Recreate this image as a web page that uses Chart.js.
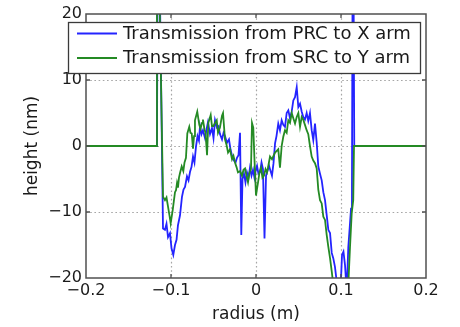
<!DOCTYPE html>
<html>
<head>
<meta charset="utf-8">
<script src="https://cdn.jsdelivr.net/npm/chart.js@4/dist/chart.umd.min.js"></script>
<style>
  html, body { margin: 0; padding: 0; background: #fff; }
  #wrap { width: 460px; height: 327px; }
</style>
</head>
<body>
<div id="wrap"><canvas id="c" width="460" height="327"></canvas></div>
<script>
// Surface height profile across the mirror, sampled along the radius (m)
const radiusPRC = [
  -0.2, -0.1165, -0.1153, -0.1094, -0.1071, -0.1053, -0.1035, -0.1012, -0.0994, -0.0973,
  -0.0953, -0.0935, -0.0918, -0.0894, -0.0871, -0.0853, -0.0835, -0.0812, -0.0794, -0.0776,
  -0.0759, -0.0741, -0.0724, -0.0706, -0.0688, -0.0671, -0.0659, -0.0641, -0.0624, -0.0600,
  -0.0582, -0.0565, -0.0541, -0.0518, -0.0500, -0.0482, -0.0459, -0.0441, -0.0424, -0.0400,
  -0.0382, -0.0365, -0.0341, -0.0318, -0.0300, -0.0282, -0.0259, -0.0241, -0.0224, -0.0206,
  -0.0188, -0.0173, -0.0159, -0.0141, -0.0124, -0.0106, -0.0088, -0.0071, -0.0053, -0.0035,
  -0.0018, 0.0, 0.0012, 0.0029, 0.0047, 0.0065, 0.0082, 0.0100, 0.0118, 0.0135,
  0.0153, 0.0171, 0.0188, 0.0206, 0.0224, 0.0241, 0.0262, 0.0282, 0.0302, 0.0321,
  0.0341, 0.0361, 0.0380, 0.0400, 0.0420, 0.0439, 0.0459, 0.0479, 0.0498, 0.0518,
  0.0538, 0.0556, 0.0576, 0.0596, 0.0615, 0.0635, 0.0655, 0.0674, 0.0694, 0.0714,
  0.0733, 0.0753, 0.0773, 0.0792, 0.0812, 0.0832, 0.0851, 0.0871, 0.0891, 0.0909,
  0.0929, 0.0949, 0.0971, 0.0994, 0.1012, 0.1029, 0.1047, 0.1067, 0.1086, 0.1106,
  0.1118, 0.1129, 0.1141, 0.1156, 0.2
];
// Height (nm), transmission from PRC to X arm
const heightPRC = [
  0, 0, 45, -12.5, -12.7, -11.8, -13.8, -13.2, -15.5, -16.5,
  -15, -14.2, -12, -10.5, -7.7, -6.6, -6.2, -4.6, -5.2, -3.9,
  -3.2, -1.6, -2.5, -0.1, 1.5, 0.8, 3, 1.8, 2.4, 1.2,
  2.5, 3.6, 1.8, 2.7, 1.2, 3.9, 2.8, 3.0, 1.8, 1.0,
  2.0, 1.5, 0.5, 1.0, -0.5, -1.5, -2.2, -2.5, -1.8, -1.4,
  2.0, -13.5, -5, -4.2, -5.5, -4, -4.8, -3.3, -4.5, -3.6,
  -4.8, -3.5, -3, -4.2, -4, -2.5, -3.5, -14, -4.5, -3.8,
  -3, -3.8, -4.5, -2.6, 0.4, 1.5, 3.4, 2.4, 3.9, 3.2,
  2.9, 5, 5.4, 4.2, 5.2, 6.9, 7.4, 8.9, 5.9, 6.4,
  5.2, 4.4, 4.0, 5, 3.8, 5, 2.4, 0.9, 3.4, 0.5,
  -3.1, -4.2, -5.2, -7, -8.2, -10.5, -12.7, -13.2, -16.2, -17,
  -18.3, -20.5, -23, -22, -16.5, -16, -18, -22, -15.3, -11.7,
  -9.5, -5.5, 45, 0, 0
];

const radiusSRC = [
  -0.2, -0.1176, -0.1165, -0.1094, -0.1071, -0.1053, -0.1035, -0.1018, -0.1004, -0.0980,
  -0.0965, -0.0953, -0.0941, -0.0929, -0.0918, -0.0906, -0.0894, -0.0874, -0.0855, -0.0841,
  -0.0824, -0.0808, -0.0785, -0.0771, -0.0756, -0.0741, -0.0729, -0.0718, -0.0691, -0.0667,
  -0.0653, -0.0635, -0.0624, -0.0606, -0.0594, -0.0576, -0.0561, -0.0533, -0.0518, -0.0502,
  -0.0482, -0.0462, -0.0447, -0.0424, -0.0400, -0.0388, -0.0365, -0.0347, -0.0329, -0.0306,
  -0.0282, -0.0265, -0.0247, -0.0229, -0.0212, -0.0188, -0.0165, -0.0147, -0.0129, -0.0112,
  -0.0094, -0.0076, -0.0059, -0.0047, -0.0032, -0.0018, 0.0, 0.0012, 0.0024, 0.0041,
  0.0059, 0.0076, 0.0094, 0.0112, 0.0129, 0.0141, 0.0165, 0.0188, 0.0224, 0.0262,
  0.0282, 0.0302, 0.0321, 0.0341, 0.0361, 0.0380, 0.0400, 0.0420, 0.0439, 0.0459,
  0.0479, 0.0498, 0.0518, 0.0538, 0.0556, 0.0576, 0.0596, 0.0615, 0.0635, 0.0655,
  0.0674, 0.0694, 0.0714, 0.0733, 0.0753, 0.0773, 0.0792, 0.0812, 0.0832, 0.0851,
  0.0871, 0.0891, 0.0909, 0.0941, 0.0988, 0.1047, 0.1086, 0.1106, 0.1126, 0.1144,
  0.1153, 0.2
];
// Height (nm), transmission from SRC to Y arm
const heightSRC = [
  0, 0, 45, -7.7, -8.2, -7.8, -9.2, -10.5, -11.7, -9.7,
  -8.2, -7, -6.7, -5.6, -6.3, -4.8, -4.1, -3.1, -3.8, -2.5,
  -1.8, 1.9, 2.9, 2, 1.9, -0.4, 1.5, 3.9, 5.2, 3.2,
  2.6, 3.5, 4, 2.5, 2, -1.4, 3.5, 4.7, 3, 3,
  3.5, 3.9, 2, 2.8, 4.6, 5, 1, 0.2, -1, -0.5,
  -2, -1.5, -2.5, -3.2, -4, -3.8, -4.5, -3.6, -3.4, -4.5,
  -5.5, -4, -3.5, 3.5, 2.8, -2, -7.5, -6.5, -5.5, -4,
  -3.3, -4.8, -4.5, -3.5, -4, -3.3, -1.6, -2, -1, -0.5,
  -3.3, 0, 1.4, 2.4, 2.0, 3.9, 3.5, 5, 4.2, 3.4,
  4.4, 5, 2.9, 4.4, 4.0, 3.2, 2.4, 1.8, 0, -1.6,
  -2.2, -2.6, -3.4, -6.6, -8.2, -8.7, -10.7, -11.2, -13.5, -15.3,
  -17, -19, -21, -24, -25, -24, -21, -15.3, -10.2, -8.2,
  0, 0
];

const seriesLabels = ['Transmission from PRC to X arm', 'Transmission from SRC to Y arm'];
const xTicks = [-0.2, -0.1, 0, 0.1, 0.2];
const yTicks = [-20, -10, 0, 10, 20];

const FONT = 'DejaVu Sans';
Chart.defaults.font.family = FONT;
Chart.defaults.color = '#1a1a1a';

function signed(v, digits) {
  if (Math.abs(v) < 1e-9) return '0';
  return (v < 0 ? '\u2212' : '') + Math.abs(v).toFixed(digits);
}

function toPoints(xs, ys) {
  return xs.map((x, i) => ({ x: x, y: ys[i] }));
}

// Dotted grid at the interior ticks, drawn beneath the traces
const dottedGrid = {
  id: 'dottedGrid',
  beforeDatasetsDraw(chart) {
    const { ctx, chartArea: a, scales: { x, y } } = chart;
    ctx.save();
    ctx.strokeStyle = '#a6a6a6';
    ctx.lineWidth = 1.2;
    ctx.setLineDash([1.6, 2.6]);
    xTicks.slice(1, -1).forEach(v => {
      const px = Math.round(x.getPixelForValue(v)) + 0.5;
      ctx.beginPath(); ctx.moveTo(px, a.top); ctx.lineTo(px, a.bottom); ctx.stroke();
    });
    yTicks.slice(1, -1).forEach(v => {
      const py = Math.round(y.getPixelForValue(v)) + 0.5;
      ctx.beginPath(); ctx.moveTo(a.left, py); ctx.lineTo(a.right, py); ctx.stroke();
    });
    ctx.restore();
  }
};

// Axes box with inward tick marks on all four sides
const axesBox = {
  id: 'axesBox',
  afterDatasetsDraw(chart) {
    const { ctx, chartArea: a, scales: { x, y } } = chart;
    ctx.save();
    ctx.strokeStyle = '#505050';
    ctx.lineWidth = 1.5;
    ctx.strokeRect(a.left, a.top, a.right - a.left, a.bottom - a.top);
    ctx.lineWidth = 1.3;
    const len = 4;
    xTicks.slice(1, -1).forEach(v => {
      const px = x.getPixelForValue(v);
      ctx.beginPath();
      ctx.moveTo(px, a.bottom); ctx.lineTo(px, a.bottom - len);
      ctx.moveTo(px, a.top); ctx.lineTo(px, a.top + len);
      ctx.stroke();
    });
    yTicks.slice(1, -1).forEach(v => {
      const py = y.getPixelForValue(v);
      ctx.beginPath();
      ctx.moveTo(a.left, py); ctx.lineTo(a.left + len, py);
      ctx.moveTo(a.right, py); ctx.lineTo(a.right - len, py);
      ctx.stroke();
    });
    ctx.restore();
  }
};

// Boxed legend in the upper part of the axes
const boxLegend = {
  id: 'boxLegend',
  afterDraw(chart) {
    const { ctx } = chart;
    const bx = 68.5, by = 22.5, bw = 352, bh = 51;
    ctx.save();
    ctx.fillStyle = '#ffffff';
    ctx.fillRect(bx, by, bw, bh);
    ctx.strokeStyle = '#3a3a3a';
    ctx.lineWidth = 1.3;
    ctx.strokeRect(bx, by, bw, bh);
    ctx.font = '18px "' + FONT + '"';
    ctx.textBaseline = 'middle';
    ctx.textAlign = 'left';
    chart.data.datasets.forEach((ds, i) => {
      const rowY = 33.5 + i * 24.5;
      ctx.strokeStyle = ds.borderColor;
      ctx.lineWidth = 1.8;
      ctx.beginPath(); ctx.moveTo(77, rowY); ctx.lineTo(117, rowY); ctx.stroke();
      ctx.fillStyle = '#1a1a1a';
      ctx.fillText(ds.label, 123, rowY + 0.5);
    });
    ctx.restore();
  }
};

new Chart(document.getElementById('c'), {
  type: 'line',
  data: {
    datasets: [
      {
        label: seriesLabels[0],
        data: toPoints(radiusPRC, heightPRC),
        borderColor: '#2424ff',
        borderWidth: 1.8,
        pointRadius: 0,
        tension: 0,
        fill: false,
        order: 1
      },
      {
        label: seriesLabels[1],
        data: toPoints(radiusSRC, heightSRC),
        borderColor: '#248a24',
        borderWidth: 1.8,
        pointRadius: 0,
        tension: 0,
        fill: false,
        order: 0
      }
    ]
  },
  options: {
    responsive: false,
    animation: false,
    devicePixelRatio: 1,
    layout: { padding: { top: 14, right: 34, left: 0, bottom: 0 } },
    plugins: { legend: { display: false }, tooltip: { enabled: false } },
    scales: {
      x: {
        type: 'linear',
        min: -0.2, max: 0.2,
        grid: { display: false, drawTicks: false },
        border: { display: false },
        afterBuildTicks(s) { s.ticks = xTicks.map(v => ({ value: v })); },
        afterFit(s) { s.height = 49; },
        ticks: {
          padding: 3,
          maxRotation: 0,
          font: { size: 16 },
          color: '#1a1a1a',
          callback: v => signed(v, 1)
        },
        title: {
          display: true,
          text: 'radius (m)',
          font: { size: 17 },
          color: '#1a1a1a',
          padding: { top: 0, bottom: 2 }
        }
      },
      y: {
        type: 'linear',
        min: -20, max: 20,
        grid: { display: false, drawTicks: false },
        border: { display: false },
        afterBuildTicks(s) { s.ticks = yTicks.map(v => ({ value: v })); },
        afterFit(s) { s.width = 86; },
        ticks: {
          padding: 4,
          font: { size: 16 },
          color: '#1a1a1a',
          callback: v => signed(v, 0)
        },
        title: {
          display: true,
          text: 'height (nm)',
          font: { size: 17 },
          color: '#1a1a1a',
          padding: { top: 22, bottom: 0 }
        }
      }
    }
  },
  plugins: [dottedGrid, axesBox, boxLegend]
});
</script>
</body>
</html>
